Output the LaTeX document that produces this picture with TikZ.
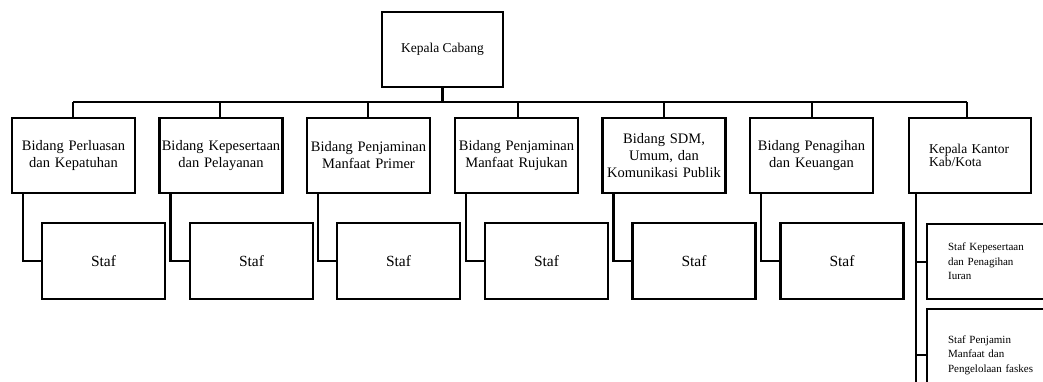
\documentclass[tikz,border=0pt]{standalone}
\usepackage{fontspec}
\setmainfont{Liberation Serif}
\begin{document}
\begin{tikzpicture}[x=1pt,y=-1pt,
  line width=2.2pt,
  box/.style={draw, line width=2.2pt, minimum width=123pt, minimum height=75pt, inner sep=1.5pt, align=center, text width=120pt,
    font=\fontsize{14.5}{17}\selectfont},
  stafbox/.style={draw, line width=2.2pt, minimum width=123pt, minimum height=76pt, font=\fontsize{15.5}{17}\selectfont},
  smallbox/.style={draw, line width=2.2pt, minimum width=146pt, inner ysep=0pt, align=left, text width=104pt,
    font=\fontsize{11}{14.5}\selectfont},
  conn/.style={line width=2.2pt}]
\useasboundingbox (0,0) rectangle (1043,381);
\clip (0,0) rectangle (1043,381);
% top
\node[draw, line width=2.2pt, minimum width=121pt, minimum height=75pt, font=\fontsize{13.5}{16}\selectfont] (kc) at (442.5,49.5) {Kepala Cabang};
% level 1
\node[box] (b1) at (73.5,155.5) {Bidang Perluasan\\dan Kepatuhan};
\node[box] (b2) at (221,155.5) {Bidang Kepesertaan\\dan Pelayanan};
\node[box] (b3) at (368.5,155.5) {Bidang Penjaminan\\Manfaat Primer};
\node[box] (b4) at (516.5,155.5) {Bidang Penjaminan\\Manfaat Rujukan};
\node[box] (b5) at (664,155.5) {Bidang SDM,\\Umum, dan\\Komunikasi Publik};
\node[box] (b6) at (811.5,155.5) {Bidang Penagihan\\dan Keuangan};
\node[draw, line width=2.2pt, minimum width=122pt, minimum height=75pt, inner xsep=20pt, align=left, text width=82pt,
  font=\fontsize{13.5}{17}\selectfont] (b7) at (970,155.5) {Kepala Kantor\\[-4pt]Kab/Kota\\[3pt]};
% bus
\coordinate (busL) at (73,102);
\coordinate (busR) at (967,102);
\draw[conn] (kc.south) -- (kc.south |- busL);
\draw[conn] (busL) -- (busR);
\foreach \b/\x in {b1/73,b2/220,b3/368,b4/518,b5/664,b6/812,b7/967}{
  \draw[conn] (\x,102) -- (\b.north -| \x,0);
}
% staff
\node[stafbox] (s1) at (103.5,261) {Staf};
\node[stafbox] (s2) at (251.5,261) {Staf};
\node[stafbox] (s3) at (398.5,261) {Staf};
\node[stafbox] (s4) at (546.5,261) {Staf};
\node[stafbox] (s5) at (694,261) {Staf};
\node[stafbox] (s6) at (842,261) {Staf};
\foreach \b/\s in {b1/s1,b2/s2,b3/s3,b4/s4,b5/s5,b6/s6}{
  \draw[conn] ([xshift=12pt]\b.south west) |- (\s.west);
}
% Kab/Kota staff
\node[smallbox, minimum height=75pt, inner xsep=21pt, anchor=north west] (s7a) at (926,223) {Staf Kepesertaan\\dan Penagihan\\Iuran};
\node[smallbox, minimum height=92pt, inner xsep=20pt, anchor=north west] (s7b) at (926,308) {Staf Penjamin\\Manfaat dan\\Pengelolaan faskes\\[6pt]};
\coordinate (v7) at ([xshift=8pt]b7.south west);
\coordinate (v7end) at (v7 |- 0,400);
\draw[conn] (v7) -- (v7end);
\draw[conn] (v7 |- s7a.west) -- (s7a.west);
\draw[conn] (v7 |- s7b.west) -- (s7b.west);
\end{tikzpicture}
\end{document}
